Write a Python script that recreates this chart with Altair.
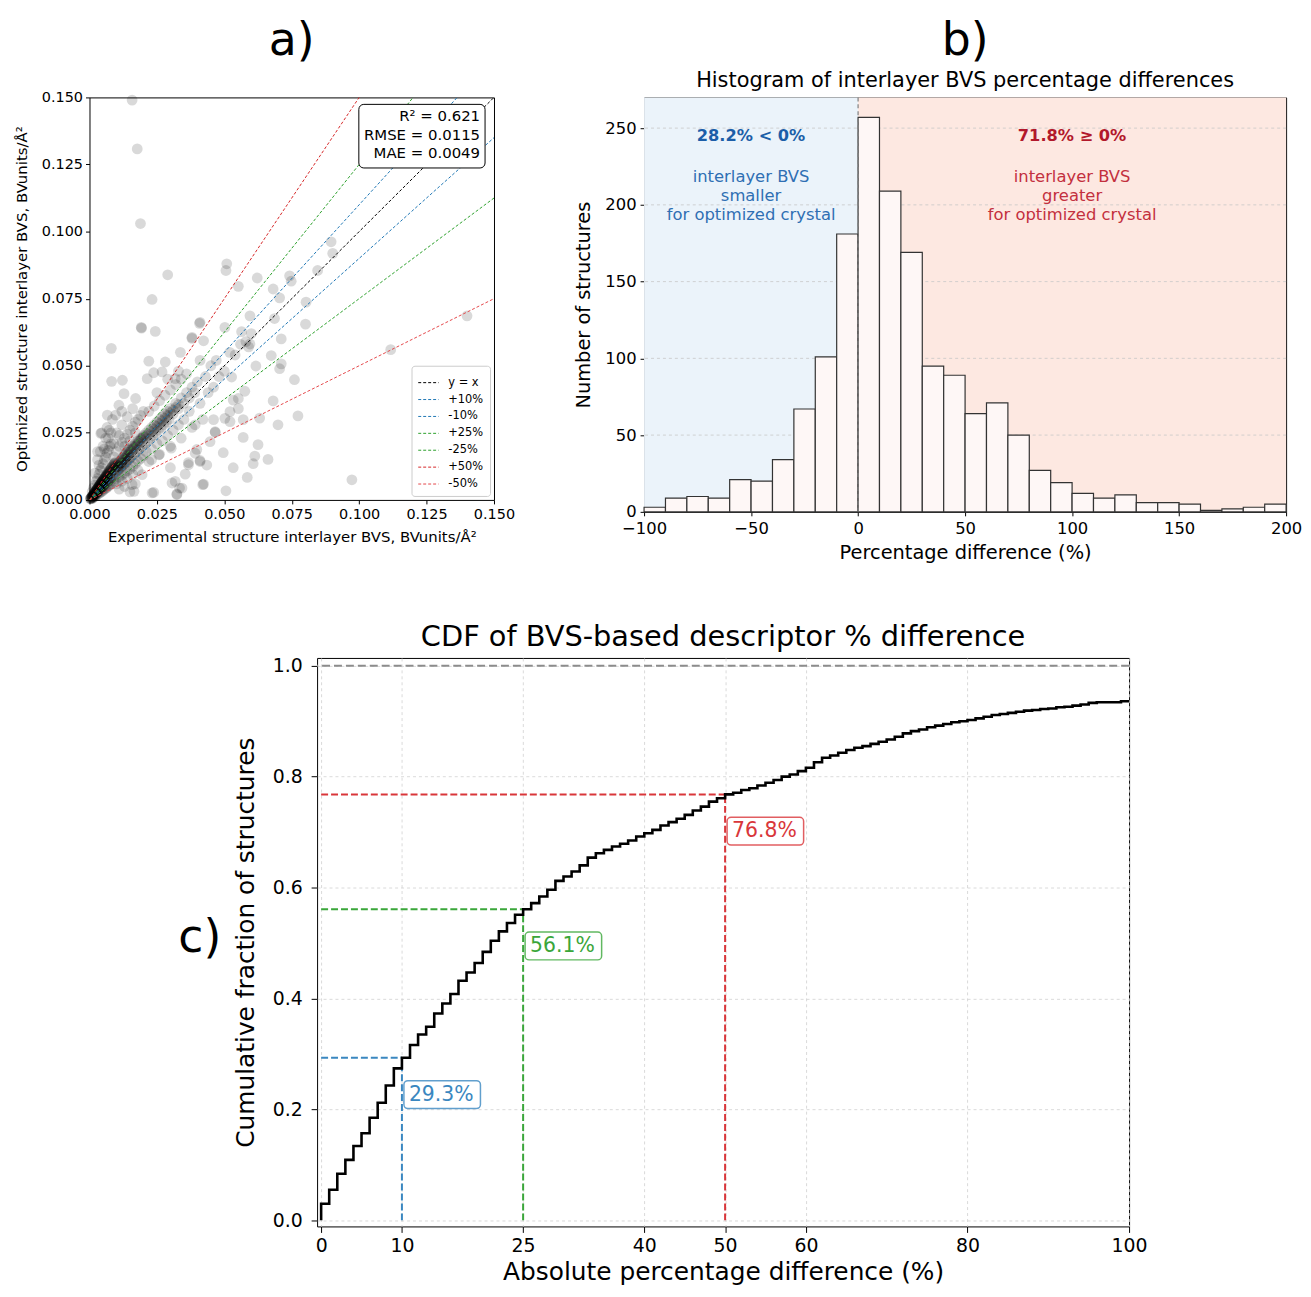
import altair as alt
import pandas as pd

FONT = "DejaVu Sans"

# ---------------- Panel a : scatter (experimental vs optimized BVS) ----------------
scatter_pts = [
    # isolated outliers
    (0.0158, 0.1490), (0.0177, 0.1308), (0.0189, 0.1030), (0.0290, 0.0839), (0.0509, 0.0880),
    (0.0506, 0.0855), (0.0232, 0.0747), (0.0192, 0.0643), (0.0244, 0.0628), (0.0081, 0.0565),
    (0.0896, 0.0962), (0.0902, 0.0919), (0.0846, 0.0855), (0.0742, 0.0835), (0.0622, 0.0827),
    (0.0748, 0.0815), (0.0552, 0.0796), (0.0681, 0.0786), (0.0705, 0.0753), (0.0803, 0.0737),
    (0.0595, 0.0686), (0.0686, 0.0676), (0.0801, 0.0655), (0.0408, 0.0658), (0.1400, 0.0686),
    (0.0502, 0.0643), (0.0564, 0.0627), (0.0711, 0.0600), (0.0595, 0.0581), (0.0380, 0.0602),
    (0.0423, 0.0593), (0.0674, 0.0538), (0.0711, 0.0507), (0.0705, 0.0489), (0.0760, 0.0448),
    (0.0617, 0.0499), (0.1117, 0.0560), (0.0773, 0.0313), (0.0681, 0.0369), (0.0699, 0.0280),
    (0.0631, 0.0305), (0.0570, 0.0233), (0.0625, 0.0206), (0.0613, 0.0163), (0.0662, 0.0151),
    (0.0607, 0.0135), (0.0533, 0.0120), (0.0585, 0.0084), (0.0506, 0.0034), (0.0973, 0.0075),
    (0.0423, 0.0059), (0.0435, 0.0130), (0.0410, 0.0147), (0.0496, 0.0176), (0.0466, 0.0252),
    (0.0398, 0.0188), (0.0355, 0.0096), (0.0324, 0.0022), (0.0334, 0.0044), (0.0318, 0.0069),
    (0.0238, 0.0028), (0.0300, 0.0120), (0.0367, 0.0139), (0.0576, 0.0405), (0.0527, 0.0458),
    (0.0460, 0.0299), (0.0521, 0.0292), (0.0392, 0.0280), (0.0552, 0.0378), (0.0533, 0.0372),
    (0.0570, 0.0299),
    # medium-density surroundings
    (0.0193, 0.0640), (0.0410, 0.0662), (0.0380, 0.0606), (0.0220, 0.0517), (0.0281, 0.0514),
    (0.0337, 0.0550), (0.0410, 0.0520), (0.0082, 0.0442), (0.0122, 0.0446), (0.0214, 0.0452),
    (0.0238, 0.0474), (0.0269, 0.0477), (0.0318, 0.0452), (0.0128, 0.0396), (0.0171, 0.0378),
    (0.0109, 0.0353), (0.0066, 0.0316), (0.0097, 0.0316), (0.0042, 0.0248), (0.0073, 0.0260),
    (0.0030, 0.0180), (0.0158, 0.0057), (0.0165, 0.0032), (0.0232, 0.0026), (0.0306, 0.0063),
    (0.0343, 0.0044), (0.0324, 0.0020), (0.0195, 0.0094), (0.0220, 0.0143), (0.0257, 0.0168),
    (0.0303, 0.0193), (0.0367, 0.0131), (0.0392, 0.0174), (0.0410, 0.0143), (0.0420, 0.0057),
    (0.0447, 0.0217), (0.0466, 0.0254), (0.0502, 0.0304), (0.0521, 0.0329), (0.0552, 0.0340),
    # dense core near the origin
    (0.0003, 0.0004), (0.0005, 0.0007), (0.0006, 0.0005), (0.0008, 0.0010), (0.0009, 0.0008),
    (0.0010, 0.0013), (0.0011, 0.0009), (0.0012, 0.0016), (0.0013, 0.0012), (0.0014, 0.0019),
    (0.0015, 0.0014), (0.0016, 0.0022), (0.0017, 0.0016), (0.0018, 0.0025), (0.0019, 0.0018),
    (0.0020, 0.0028), (0.0021, 0.0020), (0.0022, 0.0031), (0.0023, 0.0022), (0.0024, 0.0034),
    (0.0025, 0.0025), (0.0026, 0.0037), (0.0027, 0.0026), (0.0028, 0.0040), (0.0029, 0.0030),
    (0.0030, 0.0043), (0.0031, 0.0030), (0.0032, 0.0046), (0.0033, 0.0033), (0.0034, 0.0049),
    (0.0035, 0.0035), (0.0036, 0.0052), (0.0037, 0.0037), (0.0038, 0.0055), (0.0039, 0.0040),
    (0.0040, 0.0058), (0.0041, 0.0041), (0.0042, 0.0061), (0.0043, 0.0045), (0.0044, 0.0064),
    (0.0045, 0.0046), (0.0046, 0.0068), (0.0047, 0.0049), (0.0048, 0.0071), (0.0049, 0.0050),
    (0.0050, 0.0074), (0.0052, 0.0055), (0.0054, 0.0078), (0.0056, 0.0058), (0.0058, 0.0083),
    (0.0060, 0.0062), (0.0062, 0.0088), (0.0064, 0.0066), (0.0066, 0.0092), (0.0068, 0.0070),
    (0.0070, 0.0097), (0.0072, 0.0074), (0.0074, 0.0102), (0.0076, 0.0078), (0.0078, 0.0107),
    (0.0080, 0.0082),
    (0.0004, 0.0006), (0.0007, 0.0009), (0.0009, 0.0012), (0.0011, 0.0014), (0.0013, 0.0017),
    (0.0015, 0.0020), (0.0017, 0.0023), (0.0019, 0.0026), (0.0021, 0.0029), (0.0023, 0.0032),
    (0.0025, 0.0035), (0.0027, 0.0038), (0.0029, 0.0041), (0.0031, 0.0044), (0.0033, 0.0047),
    (0.0035, 0.0050), (0.0037, 0.0053), (0.0039, 0.0056), (0.0041, 0.0059), (0.0043, 0.0062),
    (0.0045, 0.0065), (0.0047, 0.0068), (0.0049, 0.0071), (0.0051, 0.0074), (0.0053, 0.0077),
    (0.0055, 0.0080), (0.0057, 0.0083), (0.0059, 0.0086), (0.0061, 0.0089), (0.0063, 0.0092),
    (0.0065, 0.0095), (0.0067, 0.0098), (0.0069, 0.0101), (0.0071, 0.0104), (0.0073, 0.0107),
    (0.0075, 0.0110), (0.0077, 0.0113), (0.0079, 0.0116), (0.0081, 0.0119), (0.0083, 0.0122),
    (0.0085, 0.0125), (0.0087, 0.0128), (0.0089, 0.0131), (0.0091, 0.0134), (0.0093, 0.0137),
    (0.0095, 0.0140), (0.0100, 0.0120), (0.0105, 0.0125), (0.0110, 0.0130), (0.0115, 0.0135),
    (0.0120, 0.0140), (0.0125, 0.0148), (0.0130, 0.0155), (0.0135, 0.0160), (0.0140, 0.0165),
    (0.0145, 0.0170), (0.0150, 0.0178), (0.0155, 0.0185), (0.0160, 0.0190), (0.0165, 0.0195),
    (0.0170, 0.0200), (0.0175, 0.0205), (0.0180, 0.0212), (0.0185, 0.0218), (0.0190, 0.0225),
    (0.0195, 0.0230), (0.0200, 0.0235), (0.0210, 0.0240), (0.0220, 0.0245), (0.0230, 0.0255),
    (0.0240, 0.0265), (0.0250, 0.0275), (0.0260, 0.0285), (0.0270, 0.0295), (0.0280, 0.0305),
    (0.0290, 0.0315), (0.0300, 0.0325), (0.0310, 0.0335), (0.0320, 0.0345), (0.0330, 0.0355),
    (0.0010, 0.0005), (0.0015, 0.0009), (0.0020, 0.0013), (0.0025, 0.0017), (0.0030, 0.0021),
    (0.0035, 0.0024), (0.0040, 0.0028), (0.0045, 0.0031), (0.0050, 0.0035), (0.0055, 0.0040),
    (0.0060, 0.0043), (0.0065, 0.0047), (0.0070, 0.0052), (0.0075, 0.0055), (0.0080, 0.0060),
    (0.0010, 0.0030), (0.0015, 0.0045), (0.0020, 0.0055), (0.0025, 0.0070), (0.0030, 0.0080),
    (0.0035, 0.0095), (0.0040, 0.0110), (0.0045, 0.0120), (0.0050, 0.0135), (0.0055, 0.0150),
    (0.0060, 0.0160), (0.0065, 0.0175), (0.0070, 0.0185), (0.0075, 0.0200), (0.0080, 0.0210),
    (0.0020, 0.0100), (0.0030, 0.0150), (0.0040, 0.0180), (0.0050, 0.0200), (0.0060, 0.0230),
    (0.0045, 0.0250), (0.0065, 0.0270), (0.0035, 0.0130), (0.0055, 0.0190),
    (0.0085, 0.0090), (0.0090, 0.0115), (0.0092, 0.0095), (0.0095, 0.0125), (0.0100, 0.0105),
    (0.0102, 0.0130), (0.0105, 0.0110), (0.0108, 0.0140), (0.0110, 0.0115), (0.0113, 0.0145),
    (0.0115, 0.0120), (0.0118, 0.0150), (0.0120, 0.0125), (0.0123, 0.0158), (0.0125, 0.0130),
    (0.0128, 0.0165), (0.0130, 0.0135), (0.0133, 0.0170), (0.0135, 0.0140), (0.0138, 0.0178),
    (0.0140, 0.0145), (0.0143, 0.0185), (0.0145, 0.0150), (0.0148, 0.0190), (0.0150, 0.0155),
    (0.0155, 0.0160), (0.0160, 0.0200), (0.0165, 0.0170), (0.0170, 0.0210), (0.0175, 0.0180),
    (0.0180, 0.0220), (0.0185, 0.0190), (0.0190, 0.0230), (0.0195, 0.0200), (0.0200, 0.0240),
    (0.0090, 0.0070), (0.0100, 0.0078), (0.0110, 0.0085), (0.0120, 0.0092), (0.0130, 0.0100),
    (0.0140, 0.0108), (0.0150, 0.0115), (0.0160, 0.0125), (0.0170, 0.0135), (0.0180, 0.0145),
    (0.0190, 0.0155), (0.0200, 0.0165), (0.0120, 0.0070), (0.0140, 0.0080), (0.0160, 0.0095),
    (0.0180, 0.0110), (0.0100, 0.0060), (0.0130, 0.0050), (0.0170, 0.0060), (0.0150, 0.0030),
    (0.0110, 0.0040),
    (0.0090, 0.0160), (0.0100, 0.0180), (0.0110, 0.0200), (0.0120, 0.0215), (0.0130, 0.0230),
    (0.0140, 0.0245), (0.0150, 0.0260), (0.0160, 0.0275), (0.0170, 0.0290), (0.0180, 0.0300),
    (0.0190, 0.0315), (0.0200, 0.0330), (0.0100, 0.0250), (0.0120, 0.0280), (0.0140, 0.0310),
    (0.0160, 0.0340), (0.0090, 0.0210), (0.0110, 0.0240), (0.0130, 0.0200), (0.0150, 0.0220),
    (0.0170, 0.0250), (0.0080, 0.0250), (0.0070, 0.0230), (0.0120, 0.0330), (0.0085, 0.0300),
    (0.0205, 0.0210), (0.0210, 0.0250), (0.0215, 0.0220), (0.0220, 0.0260), (0.0225, 0.0230),
    (0.0230, 0.0270), (0.0235, 0.0240), (0.0240, 0.0280), (0.0245, 0.0250), (0.0250, 0.0290),
    (0.0255, 0.0260), (0.0260, 0.0300), (0.0265, 0.0270), (0.0270, 0.0310), (0.0275, 0.0280),
    (0.0280, 0.0320), (0.0285, 0.0290), (0.0290, 0.0330), (0.0295, 0.0300), (0.0300, 0.0340),
    (0.0310, 0.0320), (0.0320, 0.0360), (0.0330, 0.0340), (0.0340, 0.0380), (0.0350, 0.0360),
    (0.0360, 0.0400), (0.0370, 0.0380), (0.0380, 0.0420), (0.0390, 0.0400), (0.0400, 0.0440),
    (0.0210, 0.0180), (0.0230, 0.0190), (0.0250, 0.0210), (0.0270, 0.0220), (0.0290, 0.0240),
    (0.0310, 0.0260), (0.0330, 0.0280), (0.0350, 0.0300), (0.0220, 0.0330), (0.0240, 0.0350),
    (0.0260, 0.0370), (0.0280, 0.0390), (0.0300, 0.0410), (0.0320, 0.0430), (0.0340, 0.0450),
    (0.0360, 0.0470), (0.0230, 0.0150), (0.0260, 0.0170), (0.0300, 0.0200), (0.0340, 0.0230),
    (0.0380, 0.0270), (0.0420, 0.0300), (0.0250, 0.0400), (0.0290, 0.0450), (0.0330, 0.0480),
    (0.0370, 0.0330), (0.0410, 0.0360), (0.0440, 0.0400), (0.0460, 0.0420), (0.0480, 0.0460),
    (0.0500, 0.0480), (0.0430, 0.0460), (0.0450, 0.0500), (0.0470, 0.0520), (0.0520, 0.0550),
    (0.0540, 0.0540), (0.0560, 0.0580), (0.0580, 0.0590), (0.0600, 0.0620), (0.0590, 0.0570),
]
scatter_x = [p[0] for p in scatter_pts]
scatter_y = [p[1] for p in scatter_pts]

ref_labels = ["y = x", "+10%", "-10%", "+25%", "-25%", "+50%", "-50%"]
ref_slopes = [1.0, 1.1, 0.9, 1.25, 0.75, 1.5, 0.5]
ref_colors = ["#000000", "#1f77b4", "#1f77b4", "#2ca02c", "#2ca02c", "#d62728", "#e5484b"]
stats_text = "R² = 0.621\nRMSE = 0.0115\nMAE = 0.0049"
a_ticks = [0.0, 0.025, 0.05, 0.075, 0.1, 0.125, 0.15]
A_MAX = 0.15

# ---------------- Panel b : histogram ----------------
bin_starts = list(range(-100, 200, 10))
bin_counts = [3, 9, 10, 9, 21, 20, 34, 67, 101, 181,
              257, 209, 169, 95, 89, 64, 71, 50, 27, 19,
              12, 9, 11, 6, 6, 5, 1, 2, 3, 5]
b_xticks = [-100, -50, 0, 50, 100, 150, 200]
b_yticks = [0, 50, 100, 150, 200, 250]

# ---------------- Panel c : CDF ----------------
cdf_steps = list(range(0, 100))
cdf_values = [
    0.030, 0.055, 0.084, 0.109, 0.134, 0.157, 0.185, 0.212, 0.243, 0.274,
    0.293, 0.316, 0.335, 0.349, 0.373, 0.391, 0.408, 0.432, 0.447, 0.464,
    0.484, 0.504, 0.521, 0.536, 0.551, 0.561, 0.572, 0.584, 0.596, 0.612,
    0.620, 0.629, 0.640, 0.654, 0.662, 0.668, 0.674, 0.679, 0.685, 0.692,
    0.698, 0.704, 0.712, 0.718, 0.724, 0.731, 0.739, 0.746, 0.755, 0.761,
    0.768, 0.771, 0.776, 0.779, 0.784, 0.789, 0.794, 0.800, 0.804, 0.810,
    0.816, 0.826, 0.834, 0.838, 0.843, 0.848, 0.852, 0.855, 0.859, 0.863,
    0.867, 0.872, 0.878, 0.882, 0.885, 0.889, 0.892, 0.895, 0.898, 0.900,
    0.902, 0.905, 0.908, 0.911, 0.913, 0.915, 0.917, 0.919, 0.920, 0.922,
    0.923, 0.925, 0.926, 0.928, 0.930, 0.933, 0.934, 0.934, 0.934, 0.936,
]
thr_x = [10, 25, 50]
thr_y = [0.293, 0.561, 0.768]
thr_labels = ["29.3%", "56.1%", "76.8%"]
thr_colors = ["#3a87c0", "#3aa63a", "#d9363a"]
c_xticks = [0, 10, 25, 40, 50, 60, 80, 100]
c_yticks = [0.0, 0.2, 0.4, 0.6, 0.8, 1.0]

# ======================= Panel a =======================
sc_df = pd.DataFrame({"x": scatter_x, "y": scatter_y})
lines_rows = []
for lab, s in zip(ref_labels, ref_slopes):
    lines_rows.append({"label": lab, "x": 0.0, "y": 0.0})
    lines_rows.append({"label": lab, "x": A_MAX, "y": s * A_MAX})
lines_df = pd.DataFrame(lines_rows)

xa = alt.X("x:Q", scale=alt.Scale(domain=[0, A_MAX], nice=False),
           axis=alt.Axis(values=a_ticks, format=".3f", labelFontSize=14.5, titleFontSize=15,
                         labelPadding=4,
                         title="Experimental structure interlayer BVS, BVunits/Å²", titlePadding=8))
ya = alt.Y("y:Q", scale=alt.Scale(domain=[0, A_MAX], nice=False),
           axis=alt.Axis(values=a_ticks, format=".3f", labelFontSize=14.5, titleFontSize=15,
                         labelPadding=3,
                         title="Optimized structure interlayer BVS, BVunits/Å²", titlePadding=12))

pts = alt.Chart(sc_df).mark_circle(size=118, color="black", opacity=0.15).encode(x=xa, y=ya)

ref_lines = alt.Chart(lines_df).mark_line(strokeDash=[3, 2], strokeWidth=1, clip=True).encode(
    x="x:Q", y="y:Q",
    color=alt.Color("label:N", sort=ref_labels,
                    scale=alt.Scale(domain=ref_labels, range=ref_colors),
                    legend=alt.Legend(title=None, orient="bottom-right", offset=4,
                                      symbolType="stroke", symbolStrokeWidth=1,
                                      symbolDash=[3, 2], symbolSize=420,
                                      labelFontSize=11.5, labelFont=FONT, rowPadding=-3,
                                      padding=6, cornerRadius=3, strokeColor="#cccccc",
                                      fillColor="white", labelOffset=9)),
    detail="label:N")

stats_box = alt.Chart(pd.DataFrame({"t": [stats_text]})).mark_rect(
    fill="white", stroke="black", strokeWidth=1, cornerRadius=5).encode(
    x=alt.value(271), x2=alt.value(398), y=alt.value(7), y2=alt.value(71))
stats_txt = alt.Chart(pd.DataFrame({"t": [stats_text]})).mark_text(
    align="right", baseline="top", fontSize=15, lineBreak="\n", lineHeight=18.5,
    font=FONT, color="black").encode(text="t:N", x=alt.value(393), y=alt.value(12))

panel_a = alt.layer(pts, ref_lines, stats_box, stats_txt).properties(
    width=407, height=405,
    title=alt.TitleParams("a)", fontSize=46, font=FONT, fontWeight="normal",
                          anchor="middle", offset=25))

# ======================= Panel b =======================
hist_df = pd.DataFrame({"start": bin_starts,
                        "end": [s + 10 for s in bin_starts],
                        "count": bin_counts})
bg_df = pd.DataFrame({"x0": [-100, 0], "x1": [0, 200], "side": ["neg", "pos"]})
grid_df = pd.DataFrame({"y": b_yticks[1:]})

xb = alt.X("start:Q", scale=alt.Scale(domain=[-100, 200], nice=False),
           axis=alt.Axis(values=b_xticks, labelFontSize=16.5, titleFontSize=19.5,
                         labelPadding=5, title="Percentage difference (%)", titlePadding=6))
yb = alt.Y("count:Q", scale=alt.Scale(domain=[0, 270], nice=False),
           axis=alt.Axis(values=b_yticks, labelFontSize=16.5, titleFontSize=19.5,
                         labelPadding=4, title="Number of structures", titlePadding=11))

bg = alt.Chart(bg_df).mark_rect().encode(
    x=alt.X("x0:Q", scale=alt.Scale(domain=[-100, 200], nice=False)), x2="x1:Q",
    color=alt.Color("side:N", scale=alt.Scale(domain=["neg", "pos"],
                                               range=["#ebf3fa", "#fde8e1"]), legend=None))
grid_b = alt.Chart(grid_df).mark_rule(color="#c8c8c8", strokeDash=[3, 3], strokeWidth=0.8).encode(
    y=alt.Y("y:Q", scale=alt.Scale(domain=[0, 270], nice=False)))
bars = alt.Chart(hist_df).mark_bar(fill="#fef7f6", stroke="#333333", strokeWidth=1.2).encode(
    x=xb, x2="end:Q", y=yb, y2=alt.datum(0))
zero_line = alt.Chart(pd.DataFrame({"x": [0]})).mark_rule(
    color="#808080", strokeDash=[4, 3], strokeWidth=1.2).encode(x="x:Q")

ann_bold = pd.DataFrame({"x": [-50, 100], "y": [245, 245],
                         "t": ["28.2% < 0%", "71.8% ≥ 0%"], "side": ["neg", "pos"]})
ann_norm = pd.DataFrame({"x": [-50, 100], "y": [218, 218],
                         "t": ["interlayer BVS\nsmaller\nfor optimized crystal",
                               "interlayer BVS\ngreater\nfor optimized crystal"],
                         "side": ["neg", "pos"]})
txt_bold = alt.Chart(ann_bold).mark_text(fontSize=16.3, fontWeight="bold", font=FONT,
                                         baseline="middle").encode(
    x="x:Q", y="y:Q", text="t:N",
    color=alt.Color("side:N", scale=alt.Scale(domain=["neg", "pos"], range=["#1c5ea8", "#b2182b"]),
                    legend=None))
txt_norm = alt.Chart(ann_norm).mark_text(fontSize=16.5, font=FONT, baseline="middle",
                                         lineBreak="\n", lineHeight=19).encode(
    x="x:Q", y="y:Q", text="t:N",
    color=alt.Color("side:N", scale=alt.Scale(domain=["neg", "pos"], range=["#2f6fb3", "#c3303e"]),
                    legend=None))

panel_b = alt.layer(bg, grid_b, bars, zero_line, txt_bold, txt_norm).resolve_scale(
    color="independent").properties(
    width=646, height=417,
    title=alt.TitleParams("\u00a0\u00a0b)", subtitle="Histogram of interlayer BVS percentage differences",
                          fontSize=46, font=FONT, fontWeight="normal", anchor="middle",
                          subtitleFontSize=21, subtitleFont=FONT, subtitleColor="black",
                          subtitlePadding=5, offset=5))

# ======================= Panel c =======================
cdf_x = [0] + cdf_steps + [100]
cdf_y = [0.0] + cdf_values + [cdf_values[-1]]
cdf_df = pd.DataFrame({"x": cdf_x, "y": cdf_y, "o": list(range(len(cdf_x)))})
thr_df = pd.DataFrame({"thr": thr_x, "val": thr_y, "label": thr_labels,
                       "zero": [0] * len(thr_x)})

xc_scale = alt.Scale(domain=[-0.5, 100], nice=False)
yc_scale = alt.Scale(domain=[-0.011, 1.014], nice=False)
thr_color = alt.Color("label:N", scale=alt.Scale(domain=thr_labels, range=thr_colors), legend=None)

top_line = alt.Chart(pd.DataFrame({"y": [1.0]})).mark_rule(
    color="#8c8c8c", strokeDash=[8, 4], strokeWidth=2).encode(
    y=alt.Y("y:Q", scale=yc_scale,
            axis=alt.Axis(values=c_yticks, format=".1f", labelFontSize=19, titleFontSize=25,
                          tickSize=6, labelPadding=9,
                          grid=True, gridDash=[3, 3], gridColor="#d0d0d0", gridWidth=0.8,
                          title="Cumulative fraction of structures", titlePadding=14)))
h_rules = alt.Chart(thr_df).mark_rule(strokeDash=[7, 3], strokeWidth=2).encode(
    x=alt.X("zero:Q", scale=xc_scale,
            axis=alt.Axis(values=c_xticks, labelFontSize=19, titleFontSize=25, grid=True,
                          tickSize=6, labelPadding=4,
                          gridDash=[3, 3], gridColor="#d0d0d0", gridWidth=0.8,
                          title="Absolute percentage difference (%)", titlePadding=4)),
    x2="thr:Q", y="val:Q", color=thr_color)
v_rules = alt.Chart(thr_df).mark_rule(strokeDash=[7, 3], strokeWidth=2).encode(
    x="thr:Q", y="zero:Q", y2="val:Q", color=thr_color)
cdf_line = alt.Chart(cdf_df).mark_line(interpolate="step-after", color="black",
                                       strokeWidth=2.6).encode(
    x="x:Q", y="y:Q", order="o:Q")
lab_box = alt.Chart(thr_df).mark_rect(fill="white", strokeWidth=1.5, cornerRadius=4,
                                      strokeOpacity=0.8, xOffset=2, x2Offset=79,
                                      yOffset=23, y2Offset=51).encode(
    x="thr:Q", x2="thr:Q", y="val:Q", y2="val:Q",
    stroke=alt.Stroke("label:N", scale=alt.Scale(domain=thr_labels, range=thr_colors), legend=None))
lab_txt = alt.Chart(thr_df).mark_text(align="left", baseline="middle", fontSize=20.5, font=FONT,
                                      dx=7, dy=37).encode(
    x="thr:Q", y="val:Q", text="label:N", color=thr_color)

panel_c = alt.layer(top_line, h_rules, v_rules, cdf_line, lab_box, lab_txt).properties(
    width=817, height=572,
    title=alt.TitleParams("CDF of BVS-based descriptor % difference", fontSize=29, font=FONT,
                          fontWeight="normal", anchor="middle", offset=5))

# left cell of the bottom row: carries the "c)" panel letter
c_letter = alt.Chart(pd.DataFrame({"t": ["c)"]})).mark_text(
    fontSize=46, font=FONT, align="center", baseline="middle", color="black").encode(
    text="t:N", x=alt.value(111), y=alt.value(282)).properties(
    width=134, height=572, view=alt.ViewBackground(stroke="transparent", strokeWidth=0))

top_row = alt.hconcat(panel_a, panel_b, spacing=58).resolve_scale(color="independent")
bottom_row = alt.hconcat(c_letter, panel_c, spacing=10).resolve_scale(
    color="independent", stroke="independent")
chart = alt.vconcat(top_row, bottom_row, spacing=60).resolve_scale(
    color="independent", stroke="independent").configure_view(
    stroke="black", strokeWidth=1
).configure_axis(
    domain=False, tickColor="black", tickSize=4, tickWidth=1, labelColor="black",
    titleColor="black", labelFont=FONT, titleFont=FONT, titleFontWeight="normal", grid=False,
    labelFlush=False
).configure_title(font=FONT, color="black", fontWeight="normal").configure_legend(
    labelFont=FONT
).properties(background="white", padding={"left": 5, "top": 5, "right": 0, "bottom": 2})

chart.save("out.html", embed_options={"renderer": "svg", "actions": False})
